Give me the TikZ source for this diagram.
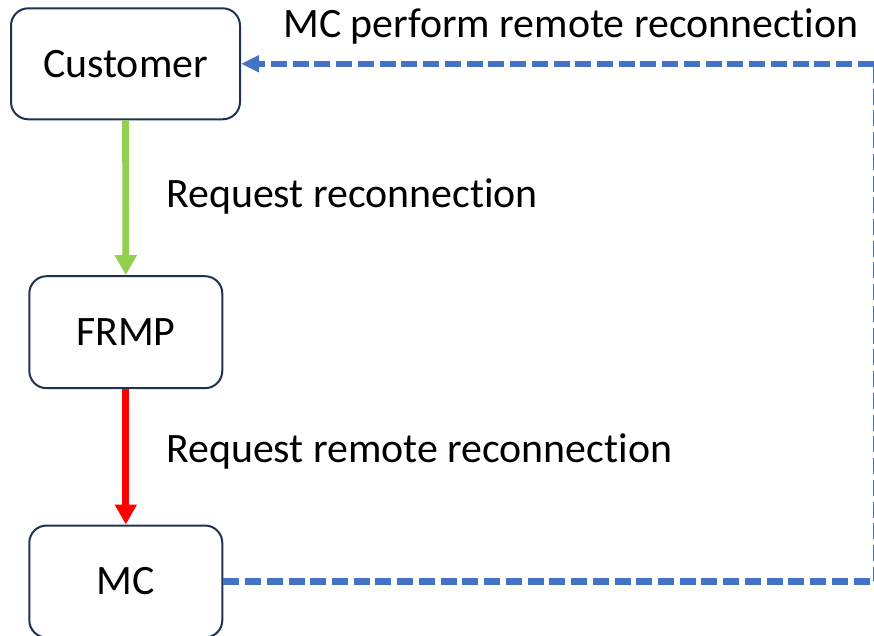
\documentclass[tikz,border=0pt]{standalone}
\usepackage{fontspec}
\setmainfont{Carlito}[Ligatures=NoCommon]
\usetikzlibrary{arrows.meta}
\definecolor{boxline}{HTML}{1F3251}
\definecolor{reqgreen}{HTML}{92D050}
\definecolor{reqred}{HTML}{FF0000}
\definecolor{mcblue}{HTML}{4472C4}

\begin{document}
\begin{tikzpicture}[x=0.75pt,y=-0.75pt,
  block/.style={rectangle,draw=boxline,line width=1.5pt,rounded corners=13pt,
    minimum width=144.75pt,minimum height=84pt,font=\fontsize{31.4}{37}\selectfont},
  lbl/.style={anchor=base west,inner sep=0pt,font=\fontsize{31.4}{37}\selectfont},
  req/.style={line width=5pt,-{Triangle[length=15pt,width=15.75pt]}}]
\def\bend{876.5}
\useasboundingbox (0,0) rectangle (874,635);
\path
(125.5,63.8) node [block,minimum width=171.75pt,minimum height=83.25pt] (customer) {Customer}
(125.8,332.2) node [block] (frmp) {FRMP}
(125.8,581.5) node [block] (mc) {MC}
(283,37.3) node [lbl] (perform) {MC perform remote reconnection}
(166,207) node [lbl] (reqrec) {Request reconnection}
(166,462) node [lbl] (reqremote) {Request remote reconnection}
;
\coordinate (corner) at (\bend,581.5);

\draw[req,reqgreen] (customer.south) -- (frmp.north);
\draw[req,reqred] (frmp.south) -- (mc.north);
  %\draw[help lines] (0,0) grid (874,635);
\draw[mcblue,line width=4.9pt,dash pattern=on 12pt off 4.3pt,
  -{Triangle[length=13.5pt,width=12pt]}] (mc.east) -- (corner) |- (customer.east);
\end{tikzpicture}
\end{document}
